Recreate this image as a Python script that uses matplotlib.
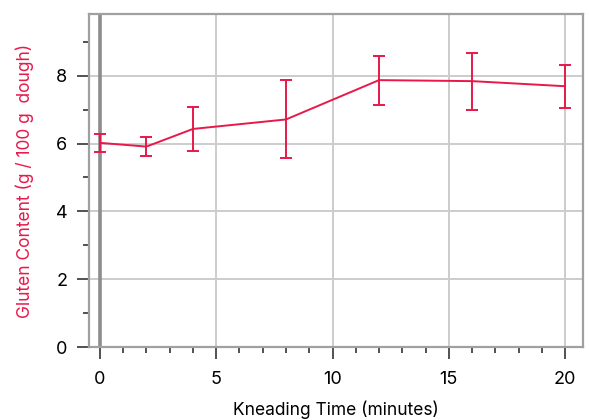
import numpy as np
import matplotlib.pyplot as plt
from matplotlib.ticker import MultipleLocator

plt.rcParams['font.family'] = ['Inter', 'DejaVu Sans']

time_min = [0, 2, 4, 8, 12, 16, 20]
gluten = [6.02, 5.91, 6.43, 6.71, 7.87, 7.84, 7.69]
gluten_err = [0.27, 0.29, 0.66, 1.15, 0.72, 0.84, 0.64]

red = '#e8194a'

fig = plt.figure(figsize=(5.89, 4.2), dpi=100)
ax = fig.add_axes([0.1511, 0.1738, 0.8387, 0.7929])

ax.errorbar(time_min, gluten, yerr=gluten_err, color=red, lw=1.4,
            elinewidth=1.4, capsize=4.5, capthick=1.4, zorder=3)

ax.axvline(0, color='#8c8c8c', lw=2.6, zorder=2)

ax.set_xlim(-0.47, 20.77)
ax.set_ylim(0, 9.82)
ax.xaxis.set_major_locator(MultipleLocator(5))
ax.xaxis.set_minor_locator(MultipleLocator(1))
ax.yaxis.set_major_locator(MultipleLocator(2))
ax.yaxis.set_minor_locator(MultipleLocator(1))

ax.grid(True, which='major', color='#cccccc', lw=1.4, zorder=1)
for s in ax.spines.values():
    s.set_color('#a0a0a0')
    s.set_linewidth(1.6)

ax.tick_params(axis='both', which='major', length=8.5, width=1.2, color='#333333',
               labelsize=13, pad=7)
ax.tick_params(axis='x', which='major', pad=9)
ax.tick_params(axis='both', which='minor', length=4, width=1.2, color='#333333')

ax.set_xlabel('Kneading Time (minutes)', fontsize=12.5, labelpad=9)
ax.set_ylabel('Gluten Content (g / 100 g  dough)', fontsize=12.5, color=red, labelpad=16)

fig.savefig('out.png', dpi=100)
